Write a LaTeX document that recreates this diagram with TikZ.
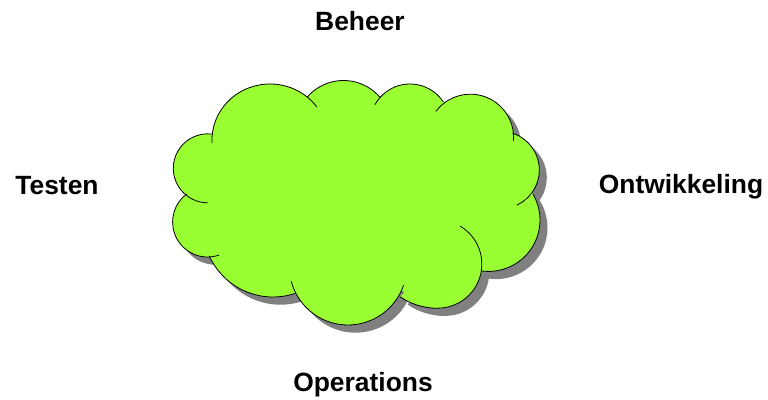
\documentclass[tikz,border=0pt]{standalone}
\usepackage{fontspec}
\setmainfont{Liberation Sans}
\definecolor{cloudgreen}{HTML}{99FF33}
\definecolor{cloudshadow}{HTML}{808080}
\tikzset{
  cloudline/.style={draw=black,line width=0.8pt,line cap=round},
  lbl/.style={font=\fontsize{26.4}{30}\selectfont\bfseries,inner sep=0pt,text=black}
}
% blob fill: centre, radii
\newcommand{\blob}[4]{\path[fill] ({#1},{399-#2}) ellipse[x radius=#3pt,y radius=#4pt];}
% outline arc: centre, radii, start and end parameter
\newcommand{\lobe}[6]{\draw[cloudline] ({#1+#3*cos(#5)},{399-#2+#4*sin(#5)}) arc[start angle=#5,end angle=#6,x radius=#3pt,y radius=#4pt];}
\newcommand{\cloudbody}{%
  \blob{270}{140}{58}{56}\blob{343.5}{128.5}{48}{48}\blob{410}{124}{40}{40}
  \blob{470.4}{137.4}{43.2}{43.2}\blob{500.7}{170}{38.6}{38.6}\blob{488.6}{220}{51.4}{51.4}
  \blob{437.75}{264.1}{44.1}{44.1}\blob{348}{266.3}{58.7}{58.7}
  \blob{273}{227}{70}{70}\blob{207.6}{222}{35}{35}\blob{207.8}{168.3}{34.5}{34.5}
  \path[fill] (438.3,399-264.3) -- (438.3,399-308.3) arc[start angle=270,end angle=227.3,x radius=56.6pt,y radius=44pt] -- cycle;
  \path[fill] (230,269) -- (440,269) -- (500,199) -- (440,159) -- (350,109) -- (230,169) -- cycle;
}
\begin{document}
\begin{tikzpicture}[x=1pt,y=1pt]
\useasboundingbox (0,0) rectangle (768,399);
\begin{scope}[xshift=7.5pt,yshift=-7.7pt,fill=cloudshadow]
  \cloudbody
\end{scope}
\begin{scope}[fill=cloudgreen]
  \cloudbody
\end{scope}
\lobe{270}{140}{58}{56}{183}{36}
\lobe{343.5}{128.5}{48}{48}{139}{40}
\lobe{410}{124}{40}{40}{151}{34}
\lobe{470.4}{137.4}{43.2}{43.2}{143}{-4.5}
\lobe{500.7}{170}{38.6}{38.6}{72}{-65}
\lobe{488.6}{220}{51.4}{51.4}{30}{-97}
\lobe{437.75}{264.1}{44.1}{44.1}{59}{-90}
\lobe{438.3}{264.3}{56.6}{44}{270}{227.3}
\lobe{348}{266.3}{58.7}{58.7}{-19}{-165}
\lobe{273}{227}{70}{70}{-71.6}{-155.4}
\lobe{207.6}{222}{35}{35}{-71}{-233.3}
\lobe{207.8}{168.3}{34.5}{34.5}{-90}{-277.5}
\node[lbl] (beheer) at (360,377.5) {Beheer};
\node[lbl] (testen) at (57,213) {Testen};
\node[lbl] (ontw) at (681,212) {Ontwikkeling};
\node[lbl] (oper) at (363,14) {Operations};
\end{tikzpicture}
\end{document}
